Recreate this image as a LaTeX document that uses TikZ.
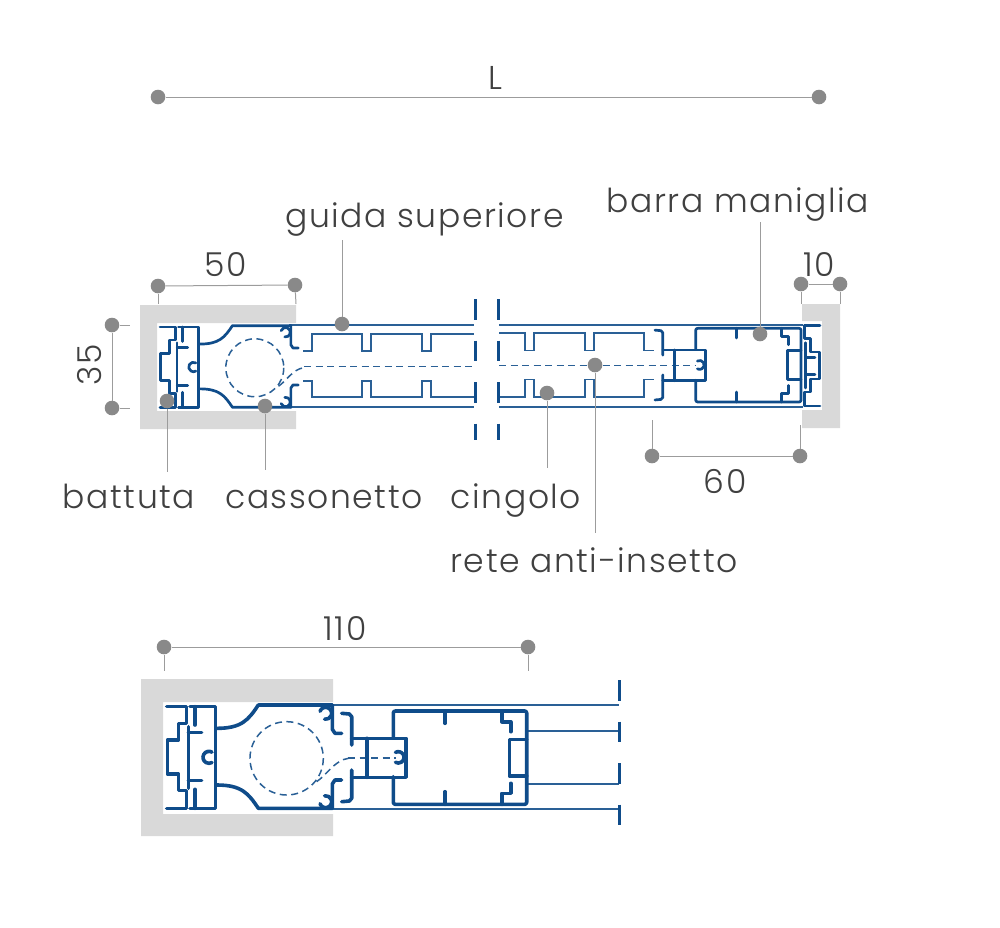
\documentclass[tikz,border=0pt]{standalone}
\usepackage{fontspec}
\setmainfont{Poppins Light}[LetterSpace=4.7]
\definecolor{profile}{HTML}{0F4C8A}
\definecolor{thinline}{HTML}{2A6096}
\definecolor{wallgray}{HTML}{D9D9D9}
\definecolor{dotgray}{HTML}{898989}
\definecolor{leadgray}{HTML}{9C9C9C}
\definecolor{labelgray}{HTML}{404040}
\tikzset{
    battuta/.pic={
        \draw (95,110) -- (155,110) -- (155,160) -- (130,160) -- (130,210) -- (97,210)
            -- (97,312) -- (130,312) -- (130,362) -- (155,362) -- (155,415) -- (95,415);
    },
    cassonetto/.pic={
        \draw (165,110) -- (242,110) -- (242,415) -- (165,415);
        \draw (180,110) -- (180,165);
        \draw (180,358) -- (180,415);
        \draw (160,170) -- (160,355);
        \draw (160,188) -- (200,188);
        \draw (160,332) -- (200,332);
        \draw (231,246.4) arc[start angle=-60, end angle=-300, radius=18];
        \draw (245,175) .. controls (320,175) and (340,150) .. (370,105) -- (592,105);
        \draw (245,345) .. controls (320,345) and (340,370) .. (370,415) -- (592,415);
        \draw (555.1,123.8) arc[start angle=-160, end angle=100, radius=18];
        \draw (555.1,401.2) arc[start angle=160, end angle=-100, radius=18];
        \draw (592,105) -- (592,178) -- (600,190) -- (620,190);
        \draw (620,330) -- (600,330) -- (592,342) -- (592,415);
        \draw [netline] (455,265) circle [radius=110];
        \draw [netline] (545,335) .. controls (575,315) and (600,270) .. (640,265);
    },
    handle/.pic={
        \draw [rounded corners=2] (0,27) -- (0,0) -- (133.4,0) -- (133.4,93.3) -- (0,93.3) -- (0,65.7);
        \draw (-41.6,27.3) -- (12.7,27.3) -- (12.7,66.3) -- (-41.6,66.3);
        \draw (-26.6,27.3) -- (-26.6,66.3);
        \draw (-51.6,2.3) -- (-44,3) -- (-41.6,5.7) -- (-41.6,34);
        \draw (-41.6,59) -- (-41.6,87.3) -- (-44,90) -- (-51.6,90.7);
        \draw (2.15,41.4) arc[start angle=-120, end angle=120, radius=5.7];
        \draw (10.7,46.3) -- (12.7,46.3);
        \draw (51.7,0) -- (51.7,12.3);
        \draw (51.7,93.3) -- (51.7,80.7);
        \draw (108.4,0) -- (108.4,10.7) -- (117.4,10.7) -- (117.4,20.7);
        \draw (108.4,93.3) -- (108.4,82.3) -- (117.4,82.3) -- (117.4,72.3);
        \draw (133.4,28.3) -- (116,28.3) -- (116,65) -- (133.4,65);
    },
}

\begin{document}
\begin{tikzpicture}[
    x=1pt, y=-1pt,
    every pic/.style={draw=profile, line cap=round, line join=round},
    netline/.style={draw=thinline, line width=1.5, dash pattern=on 7 off 4.5, line cap=butt},
    rail/.style={draw=thinline, line width=1.7},
    chain/.style={draw=thinline, line width=1.7},
    breakline/.style={draw=profile, line width=3, dash pattern=on 20.5 off 21},
    wall/.style={fill=wallgray, draw=none},
    dimdot/.style={circle, fill=dotgray, inner sep=0, minimum size=14.6},
    dimline/.style={draw=leadgray, line width=1},
    label/.style={text=labelgray, font=\fontsize{33}{33}\selectfont, inner sep=0, anchor=base},
    ]
    \useasboundingbox (0,0) rectangle (1000,927);

    % walls
    \fill [wall] (140,305) -- (296,305) -- (296,323) -- (157,323) -- (157,411) -- (296,411) -- (296,429) -- (140,429) -- cycle;
    \fill [wall] (802,304) -- (840,304) -- (840,428) -- (802,428) -- (802,410) -- (822,410) -- (822,321) -- (802,321) -- cycle;
    \fill [wall] (141,679) -- (333,679) -- (333,702) -- (163,702) -- (163,814) -- (333,814) -- (333,836) -- (141,836) -- cycle;

    % rails and chain, upper section
    \foreach \y in {325, 407} {
        \draw [rail] (289,\y) -- (474,\y);
        \draw [rail] (499,\y) -- (803,\y);
    }
    \draw [chain] (303,351) -- (312,351) -- (312,334) -- (362,334) -- (362,351) -- (371,351) -- (371,334)
        -- (422,334) -- (422,351) -- (431,351) -- (431,334) -- (474,334);
    \draw [chain] (303,381) -- (312,381) -- (312,397) -- (362,397) -- (362,381) -- (371,381) -- (371,397)
        -- (422,397) -- (422,381) -- (431,381) -- (431,397) -- (474,397);
    \draw [chain] (499,333) -- (525,333) -- (525,350.5) -- (534,350.5) -- (534,333) -- (585,333) -- (585,350.5)
        -- (594,350.5) -- (594,333) -- (644,333) -- (644,350.5) -- (654,350.5);
    \draw [chain] (499,397) -- (525,397) -- (525,379.5) -- (534,379.5) -- (534,397) -- (585,397) -- (585,379.5)
        -- (594,379.5) -- (594,397) -- (644,397) -- (644,379.5) -- (654,379.5);
    \draw [netline] (304,366.5) -- (474,366.5);
    \draw [netline] (499,365.6) -- (695,365.6);
    \draw [breakline] (475,299) -- (475,440);
    \draw [breakline] (498,299) -- (498,440);

    % rails, lower section
    \foreach \y in {705, 809} {
        \draw [rail] (332,\y) -- (619,\y);
    }
    \foreach \y in {731, 784} {
        \draw [rail] (527,\y) -- (619,\y);
    }
    \draw [netline] (348,758) -- (396,758);
    \draw [breakline] (619.5,680) -- (619.5,828);

    % profiles
    \pic [shift={(135,298)}, scale=.2633, line width=2.7] {battuta};
    \pic [shift={(135,298)}, scale=.2633, line width=2.7] {cassonetto};
    \pic [shift={(695.7,328.3)}, scale=.79, line width=2.7] {handle};
    \pic [shift={(845,296.7)}, xscale=-.2633, yscale=.2633, line width=2.7] {battuta};
    \draw [profile, line width=2.7, line cap=round] (805.7,342.7) -- (805.7,388);
    \draw [profile, line width=2.7, line cap=round] (805.7,357.3) -- (815,357.3);
    \draw [profile, line width=2.7, line cap=round] (805.7,374.3) -- (815,374.3);
    \pic [shift={(135,670)}, scale=.3333, line width=3.6] {battuta};
    \pic [shift={(135,670)}, scale=.3333, line width=3.6] {cassonetto};
    \pic [shift={(393.3,711)}, line width=3.6] {handle};

    % dimension dots
    \foreach \name/\x/\y in {l-a/158/97, l-b/819/97, w50-a/158/286, w50-b/295/285, h35-a/112/325, h35-b/112/408,
        w10-a/801/284, w10-b/840/284, w60-a/652/456, w60-b/800/456, w110-a/164/647, w110-b/528/647,
        guida/342/324, barra/760/334, batt/167/401, cass/265/406, cing/547/393, rete/595/365} {
        \node (\name) [dimdot] at (\x,\y) {};
    }
    % free ends
    \foreach \name/\x/\y in {w50-a-end/158/304, w50-b-end/296/304, h35-a-end/130/325, h35-b-end/130/408,
        w10-a-end/801/304, w10-b-end/840/304, w60-a-end/652/420, w60-b-end/800/425, w110-a-end/164/671, w110-b-end/528/671,
        guida-end/342/240, barra-end/760/222, batt-end/167/472, cass-end/265/470, cing-end/547/468, rete-end/595/533} {
        \coordinate (\name) at (\x,\y);
    }
    \foreach \a/\b in {l-a/l-b, w50-a/w50-b, h35-a/h35-b, w10-a/w10-b, w60-a/w60-b, w110-a/w110-b} {
        \draw [dimline] (\a) -- (\b);
    }
    \foreach \a in {w50-a, w50-b, h35-a, h35-b, w10-a, w10-b, w60-a, w60-b, w110-a, w110-b, guida, barra, batt, cass, cing, rete} {
        \draw [dimline] (\a) -- (\a-end);
    }

    % labels
    \node (l-label) [label] at (495,89) {L};
    \node (w50-label) [label] at (226,276) {50};
    \node (h35-label) [label, rotate=90] at (101,365) {35};
    \node (w10-label) [label] at (819,276) {10};
    \node (w60-label) [label] at (725,493) {60};
    \node (w110-label) [label] at (345,640) {110};
    \node (guida-label) [label] at (424.5,227) {guida superiore};
    \node (barra-label) [label] at (738,212) {barra maniglia};
    \node (batt-label) [label] at (129,508) {battuta};
    \node (cass-label) [label] at (324,508) {cassonetto};
    \node (cing-label) [label] at (516,508) {cingolo};
    \node (rete-label) [label] at (594,572) {rete anti-insetto};
\end{tikzpicture}
\end{document}
